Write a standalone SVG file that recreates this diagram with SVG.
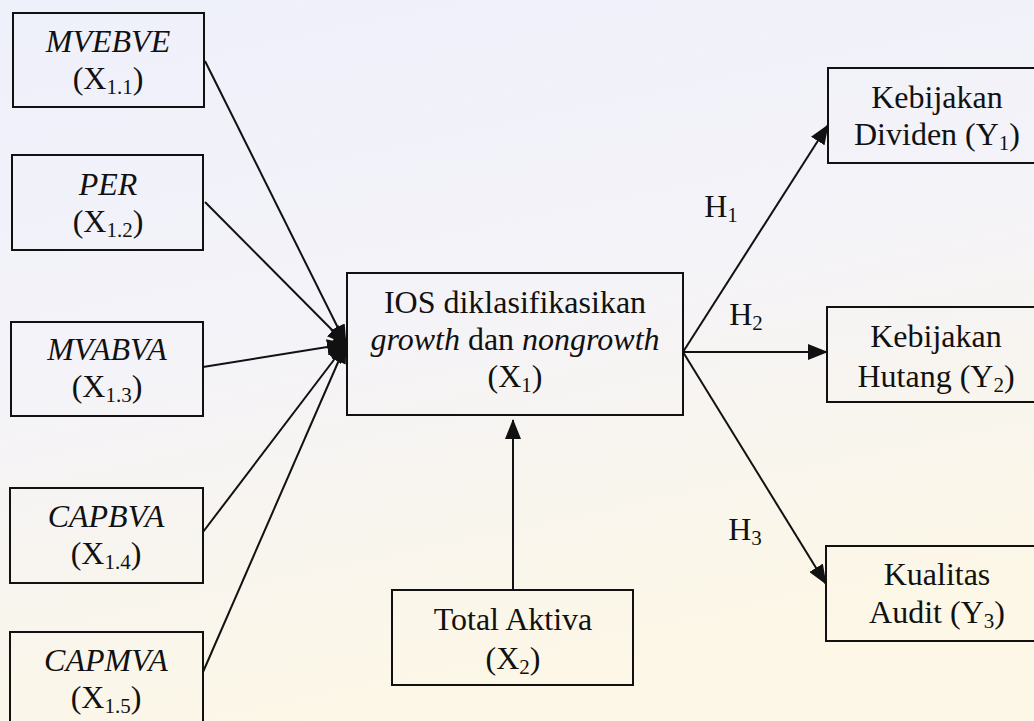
<svg xmlns="http://www.w3.org/2000/svg" width="1034" height="721" viewBox="0 0 1034 721">
<defs>
<linearGradient id="bg" x1="0" y1="0" x2="0.3" y2="1">
<stop offset="0" stop-color="#eef0fb"/>
<stop offset="0.5" stop-color="#f4f3f8"/>
<stop offset="1" stop-color="#fcf7e6"/>
</linearGradient>
<marker id="arr" markerUnits="userSpaceOnUse" markerWidth="20" markerHeight="16" refX="19" refY="8" orient="auto">
<path d="M0,0 L20,8 L0,16 Z" fill="#111"/>
</marker>
</defs>
<style>
.box{fill:none;stroke:#111;stroke-width:2}
.t{font-family:'Liberation Serif','Times New Roman','DejaVu Serif',serif;font-size:32px;fill:#111;text-anchor:middle}
.i{font-style:italic}
.s{font-size:21px}
.c{stroke:#111;stroke-width:2;fill:none;marker-end:url(#arr)}
</style>
<rect width="1034" height="721" fill="url(#bg)"/>
<g id="connectors">
<line class="c" x1="205" y1="61" x2="346" y2="344"/>
<line class="c" x1="205" y1="202" x2="346" y2="344"/>
<line class="c" x1="203" y1="367" x2="346" y2="344"/>
<line class="c" x1="203" y1="532" x2="346" y2="344"/>
<line class="c" x1="203" y1="672" x2="346" y2="344"/>
<circle cx="340" cy="344" r="8" fill="#111"/>
<line class="c" x1="683" y1="352" x2="828" y2="125"/>
<line class="c" x1="683" y1="352" x2="827" y2="352"/>
<line class="c" x1="683" y1="352" x2="826" y2="584"/>
<line class="c" x1="513" y1="590" x2="513" y2="420"/>
</g>
<g id="labels">
<text class="t" x="721" y="217">H<tspan class="s" dy="5">1</tspan></text>
<text class="t" x="746" y="325">H<tspan class="s" dy="5">2</tspan></text>
<text class="t" x="745" y="540">H<tspan class="s" dy="5">3</tspan></text>
</g>
<g id="x11">
<rect class="box" x="13" y="13" width="191" height="94"/>
<text class="t i" x="108" y="52">MVEBVE</text>
<text class="t" x="108" y="89">(X<tspan class="s" dy="5">1.1</tspan><tspan dy="-5">)</tspan></text>
</g>
<g id="x12">
<rect class="box" x="12" y="155" width="191" height="95"/>
<text class="t i" x="108" y="195">PER</text>
<text class="t" x="108" y="232">(X<tspan class="s" dy="5">1.2</tspan><tspan dy="-5">)</tspan></text>
</g>
<g id="x13">
<rect class="box" x="11" y="322" width="192" height="94"/>
<text class="t i" x="107" y="360">MVABVA</text>
<text class="t" x="107" y="397">(X<tspan class="s" dy="5">1.3</tspan><tspan dy="-5">)</tspan></text>
</g>
<g id="x14">
<rect class="box" x="10" y="488" width="193" height="95"/>
<text class="t i" x="106" y="527">CAPBVA</text>
<text class="t" x="106" y="564">(X<tspan class="s" dy="5">1.4</tspan><tspan dy="-5">)</tspan></text>
</g>
<g id="x15">
<rect class="box" x="10" y="632" width="193" height="95"/>
<text class="t i" x="106" y="671">CAPMVA</text>
<text class="t" x="106" y="708">(X<tspan class="s" dy="5">1.5</tspan><tspan dy="-5">)</tspan></text>
</g>
<g id="x1">
<rect class="box" x="347" y="273" width="336" height="142"/>
<text class="t" x="515" y="313">IOS diklasifikasikan</text>
<text class="t" x="515" y="350"><tspan class="i">growth</tspan> dan <tspan class="i">nongrowth</tspan></text>
<text class="t" x="515" y="387">(X<tspan class="s" dy="5">1</tspan><tspan dy="-5">)</tspan></text>
</g>
<g id="x2">
<rect class="box" x="392" y="590" width="241" height="95"/>
<text class="t" x="513" y="630">Total Aktiva</text>
<text class="t" x="513" y="669">(X<tspan class="s" dy="5">2</tspan><tspan dy="-5">)</tspan></text>
</g>
<g id="y1">
<rect class="box" x="828" y="68" width="220" height="95"/>
<text class="t" x="937" y="108">Kebijakan</text>
<text class="t" x="937" y="145">Dividen (Y<tspan class="s" dy="5">1</tspan><tspan dy="-5">)</tspan></text>
</g>
<g id="y2">
<rect class="box" x="827" y="307" width="220" height="95"/>
<text class="t" x="936" y="347">Kebijakan</text>
<text class="t" x="936" y="387">Hutang (Y<tspan class="s" dy="5">2</tspan><tspan dy="-5">)</tspan></text>
</g>
<g id="y3">
<rect class="box" x="826" y="546" width="220" height="95"/>
<text class="t" x="937" y="585">Kualitas</text>
<text class="t" x="937" y="623">Audit (Y<tspan class="s" dy="5">3</tspan><tspan dy="-5">)</tspan></text>
</g>
</svg>
